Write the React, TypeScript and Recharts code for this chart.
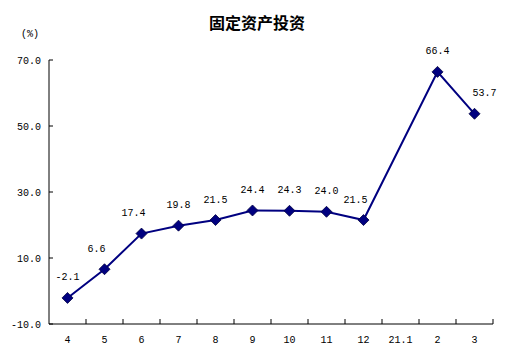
import React from 'react';
import { LineChart, Line, XAxis, YAxis, LabelList } from 'recharts';

const months = ['4', '5', '6', '7', '8', '9', '10', '11', '12', '21.1', '2', '3'];
const growth: (number | null)[] = [-2.1, 6.6, 17.4, 19.8, 21.5, 24.4, 24.3, 24.0, 21.5, null, 66.4, 53.7];
const yTicks = [-10, 10, 30, 50, 70];

const data = months.map((m, i) => ({ month: m, value: growth[i] }));

const W = 514;
const H = 356;
const MARGIN = { top: 60, right: 21, bottom: 7, left: 0 };
const Y_W = 49;
const X_H = 25;
const BAND = (W - MARGIN.left - MARGIN.right - Y_W) / months.length;
const FONT = '"Liberation Mono", "DejaVu Sans Mono", monospace';
const NAVY = '#000080';

const neighbour = (i: number, step: number): number | null => {
  for (let j = i + step; j >= 0 && j < growth.length; j += step) {
    if (growth[j] != null) return growth[j] as number;
  }
  return null;
};

// nudge a label sideways so it keeps clear of a steep adjoining segment
const labelNudge = (i: number): number => {
  const v = growth[i] as number;
  const prev = neighbour(i, -1);
  const next = neighbour(i, 1);
  if (prev != null && prev - v > 10) return 10;
  if (next != null && next - v > 2 && ((prev != null && v - prev > 8) || next - v > 20)) return -8;
  return 0;
};

const YTick = (props: any) => {
  const { x, y, payload } = props;
  return (
    <g>
      <line x1={x} x2={x + 4} y1={y} y2={y} stroke="#000" strokeWidth={1} />
      <text x={x - 8} y={y} dy="0.35em" textAnchor="end" fontSize={10} fontFamily={FONT} fill="#000">
        {Number(payload.value).toFixed(1)}
      </text>
    </g>
  );
};

const XTick = (props: any) => {
  const { x, y, payload, index } = props;
  const left = x - BAND / 2;
  const right = x + BAND / 2;
  return (
    <g>
      {index > 0 && <line x1={left} x2={left} y1={y - 5} y2={y} stroke="#000" strokeWidth={1} />}
      {index === months.length - 1 && (
        <line x1={right} x2={right} y1={y - 5} y2={y} stroke="#000" strokeWidth={1} />
      )}
      <text x={x} y={y + 15} dy="0.35em" textAnchor="middle" fontSize={10} fontFamily={FONT} fill="#000">
        {payload.value}
      </text>
    </g>
  );
};

const Diamond = (props: any) => {
  const { cx, cy, index } = props;
  if (cx == null || cy == null || isNaN(cy)) return <g key={`d-${index}`} />;
  const r = 5.5;
  return (
    <path
      key={`d-${index}`}
      d={`M${cx},${cy - r} L${cx + r},${cy} L${cx},${cy + r} L${cx - r},${cy} Z`}
      fill={NAVY}
      stroke="#000040"
      strokeWidth={0.8}
    />
  );
};

const ValueLabel = (props: any) => {
  const { x, y, width, value, index } = props;
  if (value == null || y == null || isNaN(y)) return null;
  const cx = x + (width || 0) / 2 + labelNudge(index);
  return (
    <text x={cx} y={y - 21} dy="0.35em" textAnchor="middle" fontSize={10} fontFamily={FONT} fill="#000">
      {Number(value).toFixed(1)}
    </text>
  );
};

export default function App() {
  return (
    <div style={{ position: 'absolute', left: 0, top: 0, width: W, height: H, background: '#fff' }}>
      <div
        style={{
          position: 'absolute',
          left: 0,
          width: W,
          top: 12,
          textAlign: 'center',
          fontFamily: '"Noto Sans CJK SC", sans-serif',
          fontWeight: 'bold',
          fontSize: 16,
          lineHeight: '20px',
          color: '#000',
        }}
      >
        固定资产投资
      </div>
      <div
        style={{
          position: 'absolute',
          left: 21,
          top: 28,
          fontFamily: FONT,
          fontSize: 10,
          lineHeight: '14px',
          color: '#000',
        }}
      >
        (%)
      </div>
      <div style={{ position: 'absolute', left: 0, top: 0 }}>
        <LineChart width={W} height={H} data={data} margin={MARGIN}>
          <XAxis
            dataKey="month"
            height={X_H}
            interval={0}
            padding={{ left: BAND / 2, right: BAND / 2 }}
            tickLine={false}
            tickSize={0}
            tickMargin={0}
            axisLine={{ stroke: '#000', strokeWidth: 1 }}
            tick={<XTick />}
          />
          <YAxis
            width={Y_W}
            domain={[-10, 70]}
            ticks={yTicks}
            interval={0}
            tickLine={false}
            tickSize={0}
            tickMargin={0}
            axisLine={{ stroke: '#000', strokeWidth: 1 }}
            tick={<YTick />}
          />
          <Line
            type="linear"
            dataKey="value"
            stroke={NAVY}
            strokeWidth={2}
            connectNulls
            dot={<Diamond />}
            activeDot={false}
            isAnimationActive={false}
          >
            <LabelList dataKey="value" content={<ValueLabel />} />
          </Line>
        </LineChart>
      </div>
    </div>
  );
}
